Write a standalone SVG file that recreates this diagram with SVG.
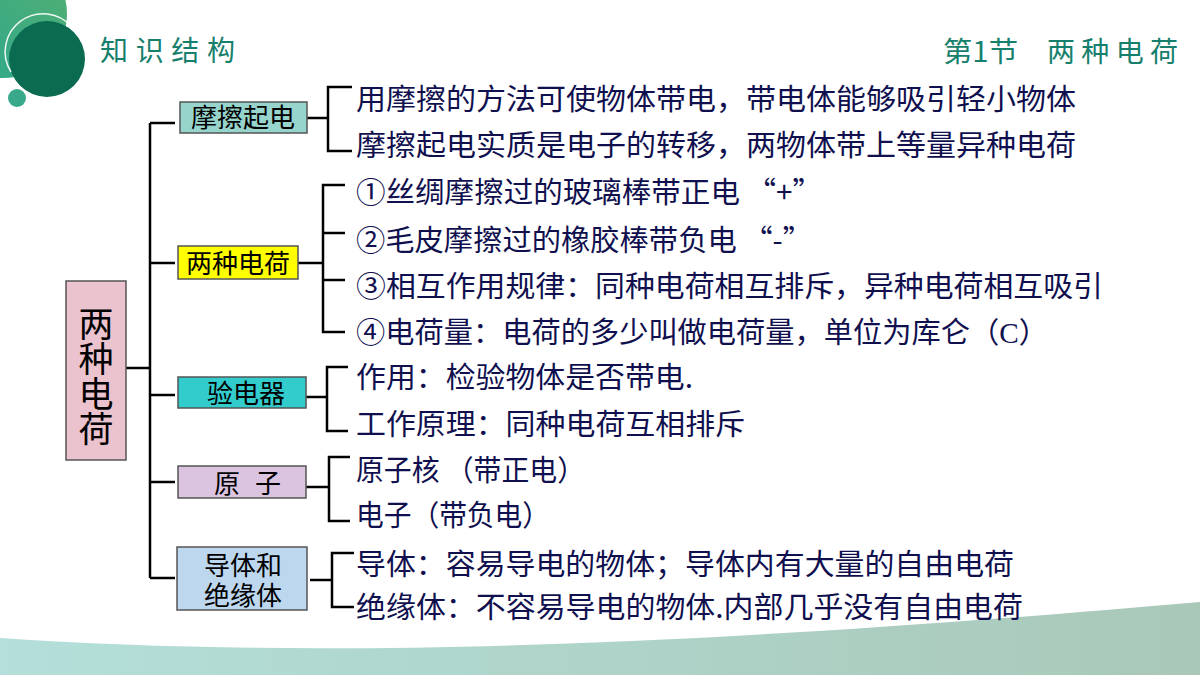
<svg xmlns="http://www.w3.org/2000/svg" width="1200" height="675" viewBox="0 0 1200 675">
<defs>
<linearGradient id="gLight" x1="0" y1="1" x2="1" y2="0">
<stop offset="0" stop-color="#2aa68f"/>
<stop offset="1" stop-color="#55b070"/>
</linearGradient>
<linearGradient id="gWave" x1="0" y1="0" x2="1" y2="0">
<stop offset="0" stop-color="#b4dfda"/>
<stop offset="1" stop-color="#a9c8b8"/>
</linearGradient>
<style>
.ln{stroke:#000;stroke-width:2.5;fill:none}
.box{stroke:#555;stroke-width:1.5}
.bt{font-family:"Noto Sans CJK SC","Noto Sans",sans-serif;font-size:26px;fill:#000;text-anchor:middle}
.bt2{font-family:"Liberation Sans","Noto Sans CJK SC",sans-serif;font-size:26px;fill:#000;text-anchor:middle}
.tx{font-family:"Noto Sans CJK SC","Noto Sans",sans-serif;font-size:29px;fill:#10104f}
.hd{font-family:"Noto Sans CJK SC","Noto Sans",sans-serif;font-size:28px;fill:#17806c}
</style>
</defs>
<rect width="1200" height="675" fill="#fff"/>
<g id="decor">
<circle cx="3" cy="14" r="64" fill="url(#gLight)"/>
<circle cx="47" cy="59" r="38" fill="#0b6b50"/>
<path d="M11,72 A38,38 0 0 1 72,27" fill="none" stroke="#fff" stroke-width="1.5" opacity="0.9"/>
<circle cx="17" cy="98" r="9" fill="#38a98b"/>
<path d="M0,638 C300,658 650,650 1200,602 L1200,675 L0,675 Z" fill="url(#gWave)"/>
</g>
<g id="titles">
<text class="hd" x="100" y="61" textLength="135" lengthAdjust="spacing">知识结构</text>
<text class="hd" x="943" y="62" textLength="75" lengthAdjust="spacingAndGlyphs">第1节</text>
<text class="hd" x="1047" y="62" textLength="131" lengthAdjust="spacing">两种电荷</text>
</g>
<g id="connectors">
<path class="ln" d="M126,368 H150 M150,123 V578 M150,123 H175 M150,263 H175 M150,395 H175 M150,482 H175 M150,578 H175"/>
<path class="ln" d="M307,118 H328 M352,87 H328 V151 H352"/>
<path class="ln" d="M298,263 H323 M345,185 H323 V332 H345 M323,233 H345 M323,280 H345"/>
<path class="ln" d="M306,397 H327 M348,367 H327 V431 H348"/>
<path class="ln" d="M306,487 H329 M350,457 H329 V521 H350"/>
<path class="ln" d="M310,580 H332 M354,553 H332 V607 H354"/>
</g>
<g id="root">
<rect class="box" x="66" y="281" width="60" height="179" fill="#ebc3cf"/>
<text x="96" y="376" writing-mode="vertical-rl" text-anchor="middle" font-family="'Noto Sans CJK SC',sans-serif" font-size="35" fill="#000">两种电荷</text>
</g>
<g id="n1">
<rect class="box" x="180" y="102" width="127" height="31" fill="#97d4cc"/>
<text class="bt" x="243" y="127">摩擦起电</text>
<text class="tx" x="356" y="110" textLength="720" lengthAdjust="spacingAndGlyphs">用摩擦的方法可使物体带电，带电体能够吸引轻小物体</text>
<text class="tx" x="356" y="156" textLength="720" lengthAdjust="spacingAndGlyphs">摩擦起电实质是电子的转移，两物体带上等量异种电荷</text>
</g>
<g id="n2">
<rect class="box" x="178" y="246" width="120" height="33" fill="#ffff00"/>
<text class="bt" x="238" y="273">两种电荷</text>
<text class="tx" x="356" y="203" textLength="466" lengthAdjust="spacingAndGlyphs">①丝绸摩擦过的玻璃棒带正电 “+”</text>
<text class="tx" x="356" y="251" textLength="456" lengthAdjust="spacingAndGlyphs">②毛皮摩擦过的橡胶棒带负电 “-”</text>
<text class="tx" x="356" y="297" textLength="747" lengthAdjust="spacingAndGlyphs">③相互作用规律：同种电荷相互排斥，异种电荷相互吸引</text>
<text class="tx" x="356" y="343" textLength="692" lengthAdjust="spacingAndGlyphs">④电荷量：电荷的多少叫做电荷量，单位为库仑（<tspan font-family="'Liberation Serif',serif">C</tspan>）</text>
</g>
<g id="n3">
<rect class="box" x="178" y="377" width="128" height="31" fill="#33cccc"/>
<text class="bt" x="246" y="403">验电器</text>
<text class="tx" x="356" y="388" textLength="337" lengthAdjust="spacingAndGlyphs">作用：检验物体是否带电.</text>
<text class="tx" x="356" y="435" textLength="389" lengthAdjust="spacingAndGlyphs">工作原理：同种电荷互相排斥</text>
</g>
<g id="n4">
<rect class="box" x="178" y="466" width="128" height="32" fill="#dac4e0"/>
<text class="bt" x="227" y="493">原</text>
<text class="bt" x="268" y="493">子</text>
<text class="tx" x="356" y="481" textLength="229" lengthAdjust="spacingAndGlyphs">原子核 （带正电）</text>
<text class="tx" x="356" y="526" textLength="194" lengthAdjust="spacingAndGlyphs">电子（带负电）</text>
</g>
<g id="n5">
<rect class="box" x="177" y="547" width="130" height="63" fill="#bdd7ee"/>
<text class="bt2" x="243" y="575">导体和</text>
<text class="bt2" x="243" y="605">绝缘体</text>
<text class="tx" x="356" y="575" textLength="658" lengthAdjust="spacingAndGlyphs">导体：容易导电的物体；导体内有大量的自由电荷</text>
<text class="tx" x="356" y="618" textLength="667" lengthAdjust="spacingAndGlyphs">绝缘体：不容易导电的物体.内部几乎没有自由电荷</text>
</g>
</svg>
